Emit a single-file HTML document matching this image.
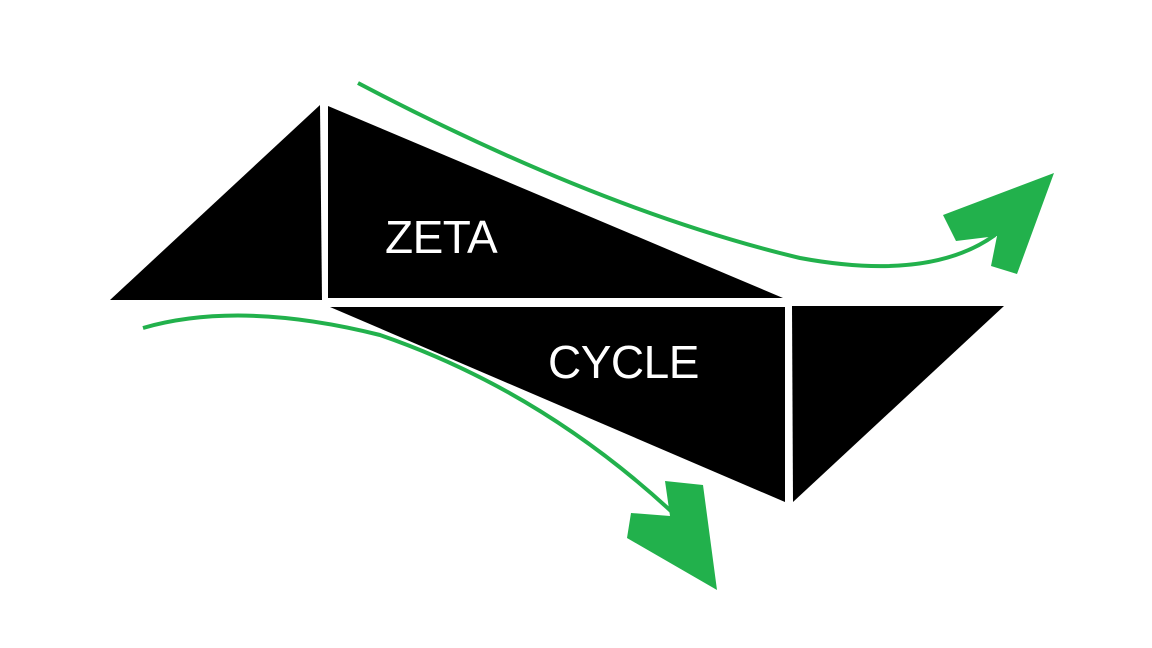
<!DOCTYPE html>
<html><head><meta charset="utf-8"><style>
html,body{margin:0;padding:0;background:#fff;}
svg{display:block;}
text{font-family:"Liberation Sans",sans-serif;fill:#fff;}
</style></head><body>
<svg width="1152" height="648" viewBox="0 0 1152 648">
<rect width="1152" height="648" fill="#fff"/>
<polygon points="110,300 320,105 322,300" fill="#000"/>
<polygon points="328,106 783,298 328,298" fill="#000"/>
<polygon points="330,307 785,307 785,502" fill="#000"/>
<polygon points="792,306 1004,306 793,502" fill="#000"/>
<text x="385" y="253" font-size="46" letter-spacing="-0.5">ZETA</text>
<text x="548" y="378" font-size="46" letter-spacing="-0.5">CYCLE</text>
<path d="M358,83 Q600,210 800,258 Q930,282 995,235" fill="none" stroke="#22b14c" stroke-width="4"/>
<polygon points="943,215 1054,173 1017,274 991,266 997,236 956,241" fill="#22b14c"/>
<path d="M143,328 Q240,300 380,335 Q540,390 672,512" fill="none" stroke="#22b14c" stroke-width="4"/>
<polygon points="665,481 703,485 717,590 627,538 631,513 670,516" fill="#22b14c"/>
</svg>
</body></html>
